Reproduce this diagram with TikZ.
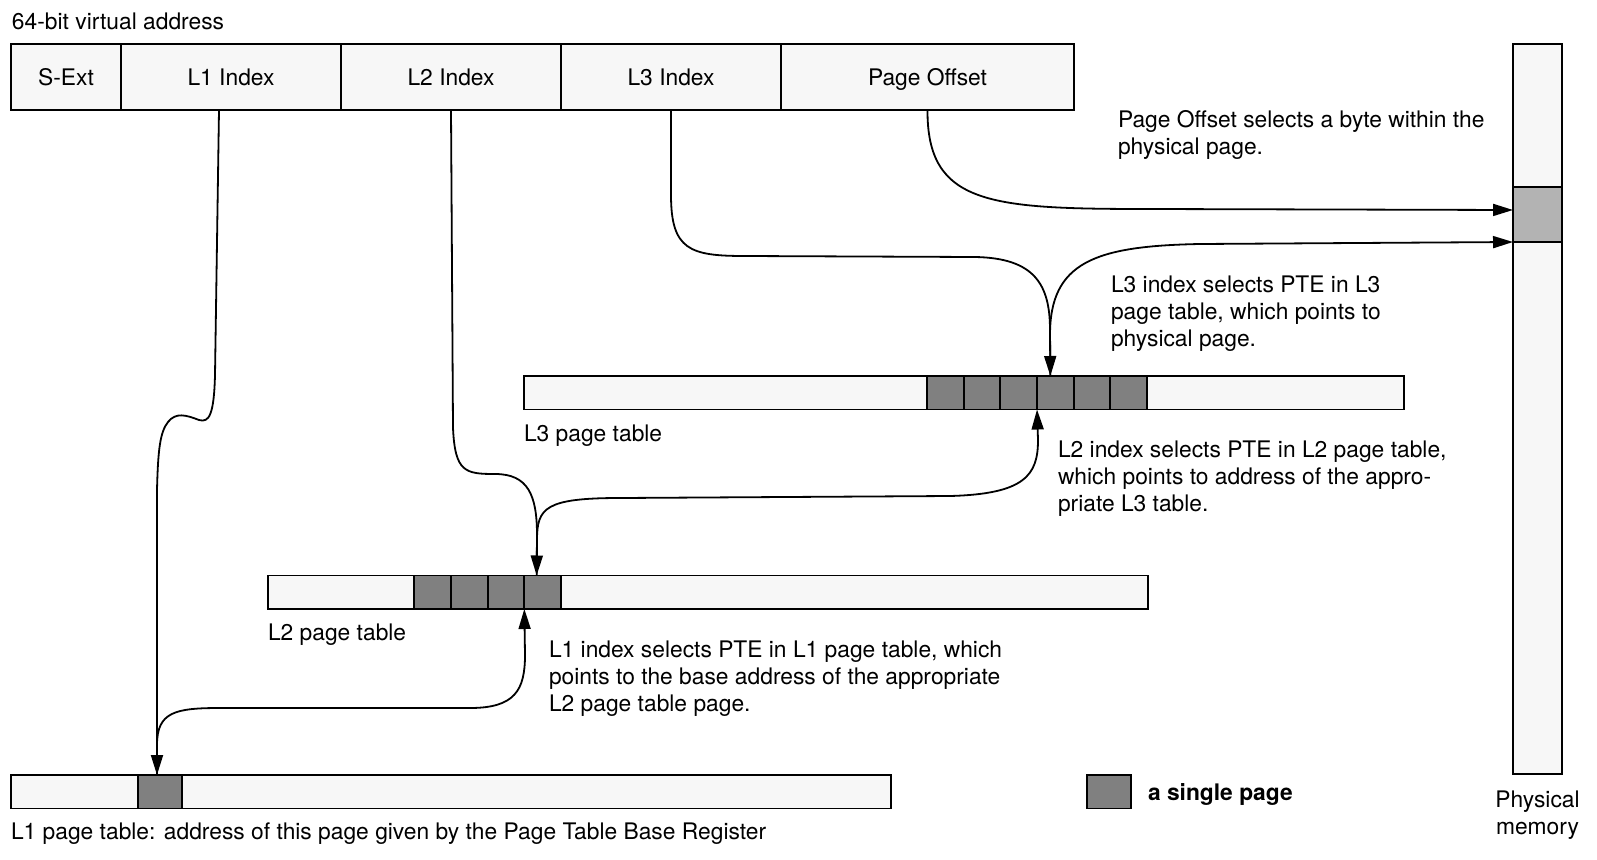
\documentclass[tikz,border=0pt]{standalone}
\usepackage{fontspec}
\setmainfont{TeX Gyre Heros}
\usetikzlibrary{arrows.meta}
\definecolor{paper}{HTML}{F7F7F7}
\definecolor{pagefill}{HTML}{808080}
\definecolor{physfill}{HTML}{B3B3B3}
\begin{document}
\begin{tikzpicture}[x=1pt,y=-1pt,
  every node/.style={font=\fontsize{22.8}{27}\selectfont, inner sep=0pt, outer sep=0pt},
  box/.style={draw, line width=1.8pt, rectangle, anchor=north west},
  field/.style={box, fill=paper, minimum height=66pt, text height=16.5pt, text depth=0pt},
  pagetable/.style={box, fill=paper, minimum width=880pt, minimum height=33.5pt},
  pte/.style={box, fill=pagefill, minimum width=36.67pt, minimum height=33.5pt},
  lbl/.style={anchor=base west},
  note/.style={anchor=north west, align=left},
  link/.style={line width=1.8pt, -{Triangle[length=20pt,width=12pt]}},
]
\fill[white] (0,0) rectangle (1597,859);
\useasboundingbox (0,0) rectangle (1597,859);

% virtual address fields
\node[lbl] (vatitle) at (12,30) {64-bit virtual address};
\node[field, minimum width=110pt] (sext)  at (11,44)  {S-Ext};
\node[field, minimum width=220pt] (l1idx) at (121,44) {L1 Index};
\node[field, minimum width=220pt] (l2idx) at (341,44) {L2 Index};
\node[field, minimum width=220pt] (l3idx) at (561,44) {L3 Index};
\node[field, minimum width=293pt] (poff)  at (781,44) {Page Offset};

% physical memory column
\node[box, fill=paper, minimum width=49pt, minimum height=730pt] (phys) at (1513,44) {};
\node[box, fill=physfill, minimum width=49pt, minimum height=55pt] (phpage) at (1513,187) {};
\node[anchor=north, align=center] (physlbl) at (1537.5,790.5) {Physical\\memory};

% L3 page table
\node[pagetable] (l3tab) at (524,376) {};
\foreach \i in {0,...,5} \node[pte] (l3c\i) at (927+\i*36.67,376) {};
\node[lbl] (l3lbl) at (524,441) {L3 page table};

% L2 page table
\node[pagetable] (l2tab) at (268,575.5) {};
\foreach \i in {0,...,3} \node[pte] (l2c\i) at (414.3+\i*36.67,575.5) {};
\node[lbl] (l2lbl) at (268,640) {L2 page table};

% L1 page table
\node[pagetable] (l1tab) at (11,775) {};
\node[pte, minimum width=44pt] (l1c) at (138,775) {};
\node[lbl] (l1lbl) at (11,839) {L1 page table: address of this page given by the Page Table Base Register};

% legend
\node[pte, minimum width=44pt] (key) at (1087,775) {};
\node[lbl, font=\fontsize{22.8}{27}\selectfont\bfseries] (keytext) at (1148,800) {a single page};

% explanations
\node[note] (pogloss) at (1118,110) {Page Offset selects a byte within the\\physical page.};
\node[note] (l3gloss) at (1111,276) {L3 index selects PTE in L3\\page table, which points to\\physical page.};
\node[note] (l2gloss) at (1058,440.5) {L2 index selects PTE in L2 page table,\\which points to address of the appro-\\priate L3 table.};
\node[note] (l1gloss) at (549,640.5) {L1 index selects PTE in L1 page table, which\\points to the base address of the appropriate\\L2 page table page.};

% walk connectors
\draw[link] ([xshift=-12pt]l1idx.south) -- (215,375)
  .. controls (214,415) and (209,423) .. (199,420)
  .. controls (186,415) and (176,412) .. (168,422)
  .. controls (160,432) and (158,450) .. (157,490) -- ([xshift=-3pt]l1c.north);

\draw[link] ([xshift=-3pt]l1c.north) -- (157,745)
  .. controls (157,712) and (175,708) .. (220,708) -- (470,708)
  .. controls (515,708) and (525,690) .. (525,655) -- (l2c3.south west);

\draw[link] (l2idx.south) -- (453,428)
  .. controls (455,472) and (465,474) .. (495,474)
  .. controls (528,474) and (537,495) .. (537,535) -- ([xshift=-6pt]l2c3.north);

\draw[link] ([xshift=-6pt]l2c3.north) -- (537,540)
  .. controls (537,508) and (545,498) .. (620,498) -- (950,496)
  .. controls (1025,494) and (1038,475) .. (1038,440) -- (l3c3.south west);

\draw[link] (l3idx.south) -- (671,195)
  .. controls (671,250) and (690,256) .. (745,256) -- (975,257)
  .. controls (1035,258) and (1050,285) .. (1050,330) -- ([xshift=-5pt]l3c3.north);

\draw[link] ([xshift=-5pt]l3c3.north) -- (1050,335)
  .. controls (1050,262) and (1095,246) .. (1200,244) -- (phpage.south west);

\draw[link] (poff.south)
  .. controls (927,205) and (990,209) .. (1150,209) -- ([yshift=4.5pt]phpage.west);
\end{tikzpicture}
\end{document}
